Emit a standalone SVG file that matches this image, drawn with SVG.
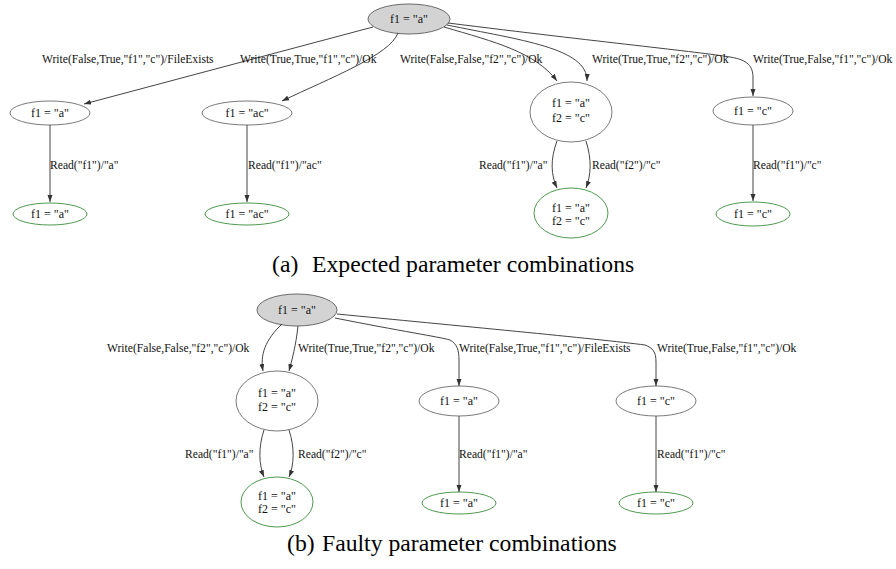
<svg xmlns="http://www.w3.org/2000/svg" width="896" height="569" viewBox="0 0 896 569">
<defs>
<marker id="ah" markerUnits="userSpaceOnUse" markerWidth="8" markerHeight="6" refX="7" refY="3" orient="auto">
<path d="M0,0.5 L7,3 L0,5.5 z" fill="#333"/>
</marker>
<style>
.n{fill:#fff;stroke:#7a7a7a;stroke-width:1}
.s{fill:#d3d3d3;stroke:#6a6a6a;stroke-width:1}
.f{fill:#fff;stroke:#4f9a4f;stroke-width:1}
.e{fill:none;stroke:#444;stroke-width:1;marker-end:url(#ah)}
text{font-family:"Liberation Serif","Times New Roman",serif;fill:#111}
.t{font-size:12px;text-anchor:middle}
.l{font-size:11.6px}
.c{font-size:23.7px;fill:#000}
</style>
</defs>
<rect width="896" height="569" fill="#fff"/>

<!-- (a) Expected -->
<g id="a_root"><ellipse class="s" cx="409" cy="19" rx="41" ry="15"/><text class="t" x="409" y="23">f1 = "a"</text></g>
<g id="a_n1"><ellipse class="n" cx="50" cy="113" rx="40" ry="12"/><text class="t" x="50" y="117">f1 = "a"</text></g>
<g id="a_n2"><ellipse class="n" cx="247" cy="113" rx="45" ry="12"/><text class="t" x="247" y="117">f1 = "ac"</text></g>
<g id="a_n3"><ellipse class="n" cx="571" cy="112" rx="41" ry="30"/><text class="t" x="571" y="107">f1 = "a"</text><text class="t" x="571" y="122">f2 = "c"</text></g>
<g id="a_n4"><ellipse class="n" cx="753" cy="111" rx="40" ry="14"/><text class="t" x="753" y="115">f1 = "c"</text></g>
<g id="a_f1"><ellipse class="f" cx="50" cy="214" rx="37" ry="11"/><text class="t" x="50" y="218">f1 = "a"</text></g>
<g id="a_f2"><ellipse class="f" cx="247" cy="214" rx="42" ry="11"/><text class="t" x="247" y="218">f1 = "ac"</text></g>
<g id="a_f3"><ellipse class="f" cx="571" cy="213" rx="37" ry="25"/><text class="t" x="571" y="212">f1 = "a"</text><text class="t" x="571" y="225">f2 = "c"</text></g>
<g id="a_f4"><ellipse class="f" cx="753" cy="214" rx="37" ry="12"/><text class="t" x="753" y="218">f1 = "c"</text></g>

<g id="a_edges">
<path class="e" d="M373,27 L84,104"/>
<path class="e" d="M398,33 C390,55 330,78 282,101"/>
<path class="e" d="M444,27 C495,42 535,52 557,81"/>
<path class="e" d="M447,25 C520,40 588,48 587,81"/>
<path class="e" d="M448,23 C600,42 700,52 730,57 C748,60 753,66 753,78 L753,96"/>
<path class="e" d="M50,125 L50,202"/>
<path class="e" d="M247,125 L247,202"/>
<path class="e" d="M557,141 C550,160 551,175 557,188"/>
<path class="e" d="M586,141 C592,160 591,175 586,188"/>
<path class="e" d="M753,125 L753,201"/>
<text class="l" x="42" y="63">Write(False,True,"f1","c")/FileExists</text>
<text class="l" x="240" y="63">Write(True,True,"f1","c")/Ok</text>
<text class="l" x="400" y="63">Write(False,False,"f2","c")/Ok</text>
<text class="l" x="592" y="63">Write(True,True,"f2","c")/Ok</text>
<text class="l" x="753" y="63">Write(True,False,"f1","c")/Ok</text>
<text class="l" x="50" y="169">Read("f1")/"a"</text>
<text class="l" x="248" y="169">Read("f1")/"ac"</text>
<text class="l" x="479" y="169">Read("f1")/"a"</text>
<text class="l" x="592" y="169">Read("f2")/"c"</text>
<text class="l" x="753" y="169">Read("f1")/"c"</text>
</g>

<text class="c" x="272" y="272">(a)</text>
<text class="c" x="312" y="272">Expected parameter combinations</text>

<!-- (b) Faulty -->
<g id="b_root"><ellipse class="s" cx="297" cy="310" rx="40" ry="16"/><text class="t" x="297" y="314">f1 = "a"</text></g>
<g id="b_n1"><ellipse class="n" cx="277" cy="401" rx="41" ry="30"/><text class="t" x="277" y="397">f1 = "a"</text><text class="t" x="277" y="411">f2 = "c"</text></g>
<g id="b_n2"><ellipse class="n" cx="459" cy="401" rx="40" ry="15"/><text class="t" x="459" y="405">f1 = "a"</text></g>
<g id="b_n3"><ellipse class="n" cx="656" cy="401" rx="40" ry="15"/><text class="t" x="656" y="405">f1 = "c"</text></g>
<g id="b_f1"><ellipse class="f" cx="277" cy="502" rx="36" ry="25"/><text class="t" x="277" y="500">f1 = "a"</text><text class="t" x="277" y="513">f2 = "c"</text></g>
<g id="b_f2"><ellipse class="f" cx="459" cy="503" rx="37" ry="11"/><text class="t" x="459" y="507">f1 = "a"</text></g>
<g id="b_f3"><ellipse class="f" cx="656" cy="503" rx="37" ry="11"/><text class="t" x="656" y="507">f1 = "c"</text></g>

<g id="b_edges">
<path class="e" d="M282,324 C265,340 260,355 263,371"/>
<path class="e" d="M298,326 C296,345 292,360 289,371"/>
<path class="e" d="M335,318 C400,331 440,337 450,340 C457,344 459,350 459,360 L459,386"/>
<path class="e" d="M337,314 C450,325 600,339 645,345 C653,348 656,352 656,362 L656,386"/>
<path class="e" d="M264,430 C258,448 259,465 264,477"/>
<path class="e" d="M289,430 C295,448 294,465 289,477"/>
<path class="e" d="M459,416 L459,492"/>
<path class="e" d="M656,416 L656,492"/>
<text class="l" x="107" y="352">Write(False,False,"f2","c")/Ok</text>
<text class="l" x="298" y="352">Write(True,True,"f2","c")/Ok</text>
<text class="l" x="459" y="352">Write(False,True,"f1","c")/FileExists</text>
<text class="l" x="657" y="352">Write(True,False,"f1","c")/Ok</text>
<text class="l" x="185" y="458">Read("f1")/"a"</text>
<text class="l" x="298" y="458">Read("f2")/"c"</text>
<text class="l" x="459" y="458">Read("f1")/"a"</text>
<text class="l" x="657" y="458">Read("f1")/"c"</text>
</g>

<text class="c" x="287" y="551">(b)</text>
<text class="c" x="322" y="551">Faulty parameter combinations</text>
</svg>
